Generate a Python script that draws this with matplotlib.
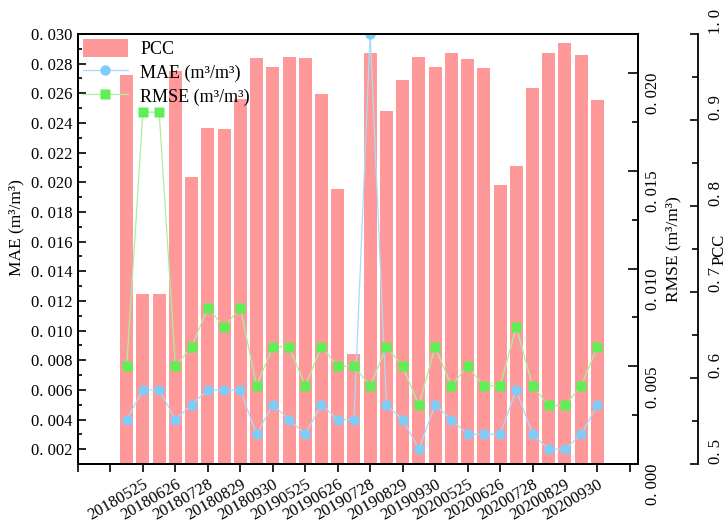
import matplotlib
matplotlib.use("Agg")
import matplotlib.pyplot as plt
from matplotlib.ticker import MultipleLocator, FuncFormatter
import numpy as np

plt.rcParams['font.family'] = ['Liberation Serif', 'DejaVu Serif']

# acquisition dates (16-day composites, May-Sep of each year)
dates = ['20180509', '20180525', '20180610', '20180626', '20180712',
         '20180728', '20180813', '20180829', '20180914', '20180930',
         '20190509', '20190525', '20190610', '20190626', '20190712',
         '20190728', '20190813', '20190829', '20190914', '20190930',
         '20200509', '20200525', '20200610', '20200626', '20200712',
         '20200728', '20200813', '20200829', '20200914', '20200930']

pcc = [0.952, 0.698, 0.698, 0.957, 0.834, 0.891, 0.890, 0.924, 0.972, 0.962,
       0.973, 0.972, 0.930, 0.820, 0.628, 0.978, 0.910, 0.947, 0.973, 0.962,
       0.978, 0.971, 0.961, 0.824, 0.847, 0.937, 0.978, 0.989, 0.976, 0.923]

mae = [0.004, 0.006, 0.006, 0.004, 0.005, 0.006, 0.006, 0.006, 0.003, 0.005,
       0.004, 0.003, 0.005, 0.004, 0.004, 0.030, 0.005, 0.004, 0.002, 0.005,
       0.004, 0.003, 0.003, 0.003, 0.006, 0.003, 0.002, 0.002, 0.003, 0.005]

rmse = [0.005, 0.018, 0.018, 0.005, 0.006, 0.008, 0.007, 0.008, 0.004, 0.006,
        0.006, 0.004, 0.006, 0.005, 0.005, 0.004, 0.006, 0.005, 0.003, 0.006,
        0.004, 0.005, 0.004, 0.004, 0.007, 0.004, 0.003, 0.003, 0.004, 0.006]

x = np.arange(len(dates))
fmt = FuncFormatter(lambda v, p: f"{v:.3f}".replace('.', '. '))
fmt1 = FuncFormatter(lambda v, p: f"{v:.1f}".replace('.', '. '))

fig = plt.figure(figsize=(7.27, 5.24), dpi=100)
ax = fig.add_axes([0.1073, 0.1145, 0.7703, 0.8206])
ax_mae = ax.twinx()
ax_rmse = ax.twinx()

bars = ax.bar(x, pcc, width=0.8, color='#FF9999', edgecolor='none', label='PCC')
l_mae, = ax_mae.plot(x, mae, color='#A8DCFA', lw=0.9, marker='o', ms=7.5,
                     mfc='#80CCF8', mec='none', label='MAE (m\u00b3/m\u00b3)')
l_rmse, = ax_rmse.plot(x, rmse, color='#A8F0A0', lw=0.9, marker='s', ms=6.5,
                       mfc='#60EE55', mec='none', label='RMSE (m\u00b3/m\u00b3)')

# x axis: one tick every two dates
ax.set_xlim(-3, 31.5)
xt = np.arange(-3, 32, 2)
ax.set_xticks(xt)
ax.set_xticklabels([dates[i] if 0 <= i < len(dates) else '' for i in xt],
                   rotation=30, ha='right', rotation_mode='anchor', fontsize=12)
ax.tick_params(axis='x', direction='out', length=6, width=1.2, pad=3)

# PCC axis on offset right spine
ax.yaxis.tick_right()
ax.yaxis.set_label_position('right')
ax.spines['right'].set_position(('axes', 1.107))
ax.set_ylim(0.5, 1.0)
ax.set_yticks(np.arange(0.5, 1.01, 0.1))
ax.yaxis.set_minor_locator(MultipleLocator(0.05))
ax.yaxis.set_major_formatter(fmt1)
ax.tick_params(axis='y', which='major', direction='in', length=6, width=1.2,
               labelsize=12, labelrotation=90, pad=7)
ax.tick_params(axis='y', which='minor', direction='in', length=4, width=1.2)
for lbl in ax.get_yticklabels():
    lbl.set_va('bottom')
ax.set_ylabel('PCC', fontsize=12)
ax.yaxis.set_label_coords(1.131, 0.5)

# MAE axis on the left
ax_mae.yaxis.tick_left()
ax_mae.yaxis.set_label_position('left')
ax_mae.set_ylim(0.001, 0.030)
ax_mae.set_yticks(np.arange(0.002, 0.0301, 0.002))
ax_mae.yaxis.set_minor_locator(MultipleLocator(0.001))
ax_mae.yaxis.set_major_formatter(fmt)
ax_mae.tick_params(axis='y', which='major', direction='in', length=6, width=1.2,
                   labelsize=12, pad=4)
ax_mae.tick_params(axis='y', which='minor', direction='in', length=3, width=1.2)
ax_mae.set_ylabel('MAE (m\u00b3/m\u00b3)', fontsize=12.5)
ax_mae.yaxis.set_label_coords(-0.095, 0.55)

# RMSE axis on the frame's right edge
ax_rmse.set_ylim(0, 0.022)
ax_rmse.set_yticks(np.arange(0, 0.0201, 0.005))
ax_rmse.yaxis.set_minor_locator(MultipleLocator(0.0025))
ax_rmse.yaxis.set_major_formatter(fmt)
ax_rmse.tick_params(axis='y', which='major', direction='in', length=7, width=1.2,
                    labelsize=12, labelrotation=90, pad=5)
ax_rmse.tick_params(axis='y', which='minor', direction='in', length=4, width=1.2)
for lbl in ax_rmse.get_yticklabels():
    lbl.set_va('top')
ax_rmse.set_ylabel('RMSE (m\u00b3/m\u00b3)', fontsize=12.5, labelpad=3)

for a in (ax, ax_mae, ax_rmse):
    for s in a.spines.values():
        s.set_linewidth(1.3)

ax_rmse.legend([bars, l_mae, l_rmse],
               ['PCC', 'MAE (m\u00b3/m\u00b3)', 'RMSE (m\u00b3/m\u00b3)'],
               loc='upper left', bbox_to_anchor=(0, 1), frameon=False,
               fontsize=13, handlelength=2.5, handleheight=1.2,
               labelspacing=0.25, handletextpad=0.7, borderaxespad=0.15,
               borderpad=0.1)

fig.savefig('out.png', dpi=100)
